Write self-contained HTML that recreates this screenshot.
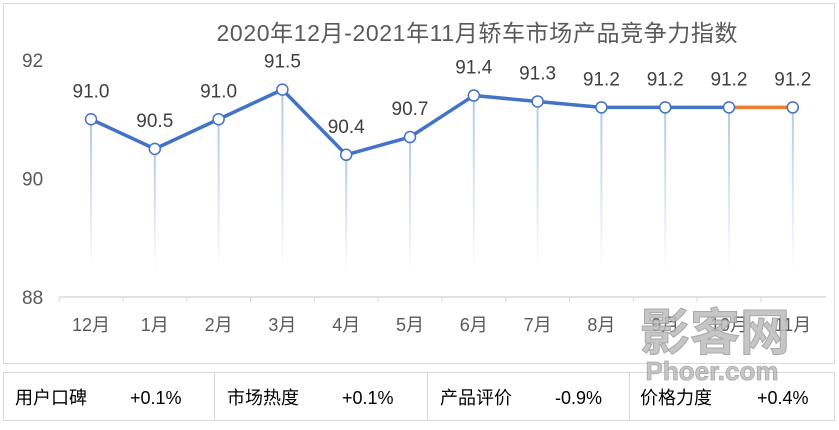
<!DOCTYPE html>
<html><head><meta charset="utf-8"><style>
body{margin:0;background:#fff;width:839px;height:425px;overflow:hidden;font-family:"Liberation Sans","Noto Sans CJK SC",sans-serif}
svg text{font-family:"Liberation Sans","Noto Sans CJK SC",sans-serif}
</style></head><body>
<svg width="839" height="425" viewBox="0 0 839 425" xmlns="http://www.w3.org/2000/svg">
<defs><linearGradient id="drop" x1="0" y1="0" x2="0" y2="1"><stop offset="0" stop-color="#b4c7e7"/><stop offset="1" stop-color="#b4c7e7" stop-opacity="0"/></linearGradient></defs>
<rect x="3.5" y="3.5" width="831" height="360" fill="#fff" stroke="#d9d9d9"/>
<text x="477" y="41" font-size="23" fill="#595959" text-anchor="middle" textLength="521">2020年12月-2021年11月轿车市场产品竞争力指数</text>
<g id="yaxis"></g>
<g id="drops"></g>
<line x1="59" y1="297" x2="826" y2="297" stroke="#d9d9d9" stroke-width="1.5"/>
<g id="xaxis"></g>
<g id="series"></g>
<g id="labels"></g>
<g id="tablebg"></g>
<g>
<rect x="3.5" y="372.5" width="831" height="48" fill="#fff" stroke="#d9d9d9"/>
<line x1="214.5" y1="372" x2="214.5" y2="421" stroke="#d9d9d9"/>
<line x1="427.5" y1="372" x2="427.5" y2="421" stroke="#d9d9d9"/>
<line x1="629.5" y1="372" x2="629.5" y2="421" stroke="#d9d9d9"/>
<g font-size="18" fill="#000">
<text x="15" y="404">用户口碑</text>
<text x="130" y="404">+0.1%</text>
<text x="227" y="404">市场热度</text>
<text x="342" y="404">+0.1%</text>
<text x="440" y="404">产品评价</text>
<text x="555" y="404">-0.9%</text>
<text x="640" y="404">价格力度</text>
<text x="757" y="404">+0.4%</text>
</g></g>
<text x="715" y="350" font-size="50" font-weight="bold" fill="#bdbdbd" stroke="#999" stroke-width="1" text-anchor="middle" opacity="0.85">影客网</text>
<text x="712" y="380" font-size="26" font-weight="bold" fill="#bdbdbd" stroke="#999" stroke-width="0.8" text-anchor="middle" opacity="0.85">Phoer.com</text>
</svg>
<script>
const categories=["12月","1月","2月","3月","4月","5月","6月","7月","8月","9月","10月","11月"];
const values=[91.0,90.5,91.0,91.5,90.4,90.7,91.4,91.3,91.2,91.2,91.2,91.2];
const yTicks=[88,90,92];
const NS="http://www.w3.org/2000/svg";
const x=i=>91+i*63.8;
const y=v=>297-(v-88)*59.25;
function mk(p,t,a){const e=document.createElementNS(NS,t);for(const k in a)e.setAttribute(k,a[k]);p.appendChild(e);return e;}
const ya=document.getElementById('yaxis');
yTicks.forEach(t=>{const e=mk(ya,'text',{x:22,y:y(t)+7,'font-size':19,fill:'#595959'});e.textContent=t;

});
const xa=document.getElementById('xaxis');
categories.forEach((c,i)=>{const e=mk(xa,'text',{x:x(i),y:331,'font-size':18,fill:'#595959','text-anchor':'middle'});e.textContent=c;


const tk=mk(xa,'line',{x1:x(i)-31.9,y1:297,x2:x(i)-31.9,y2:302,stroke:'#d9d9d9'});

});
const dr=document.getElementById('drops');
values.forEach((v,i)=>{const l=mk(dr,'rect',{x:x(i)-1,y:y(v),width:2,height:272-y(v),fill:'url(#drop)'});

});
const s=document.getElementById('series');
const pts=values.slice(0,11).map((v,i)=>x(i)+','+y(v)).join(' ');
const pl=mk(s,'polyline',{points:pts,fill:'none',stroke:'#4472c4','stroke-width':3.5,'stroke-linejoin':'round'});


const last=mk(s,'line',{x1:x(10),y1:y(values[10]),x2:x(11),y2:y(values[11]),stroke:'#ed7d31','stroke-width':3.5});


const lb=document.getElementById('labels');
values.forEach((v,i)=>{const c=mk(s,'circle',{cx:x(i),cy:y(v),r:5.5,fill:'#fff',stroke:'#4472c4','stroke-width':1.5});


const t=mk(lb,'text',{x:x(i),y:y(v)-22,'font-size':19,fill:'#404040','text-anchor':'middle'});t.textContent=v.toFixed(1);

});
</script>
</body></html>
